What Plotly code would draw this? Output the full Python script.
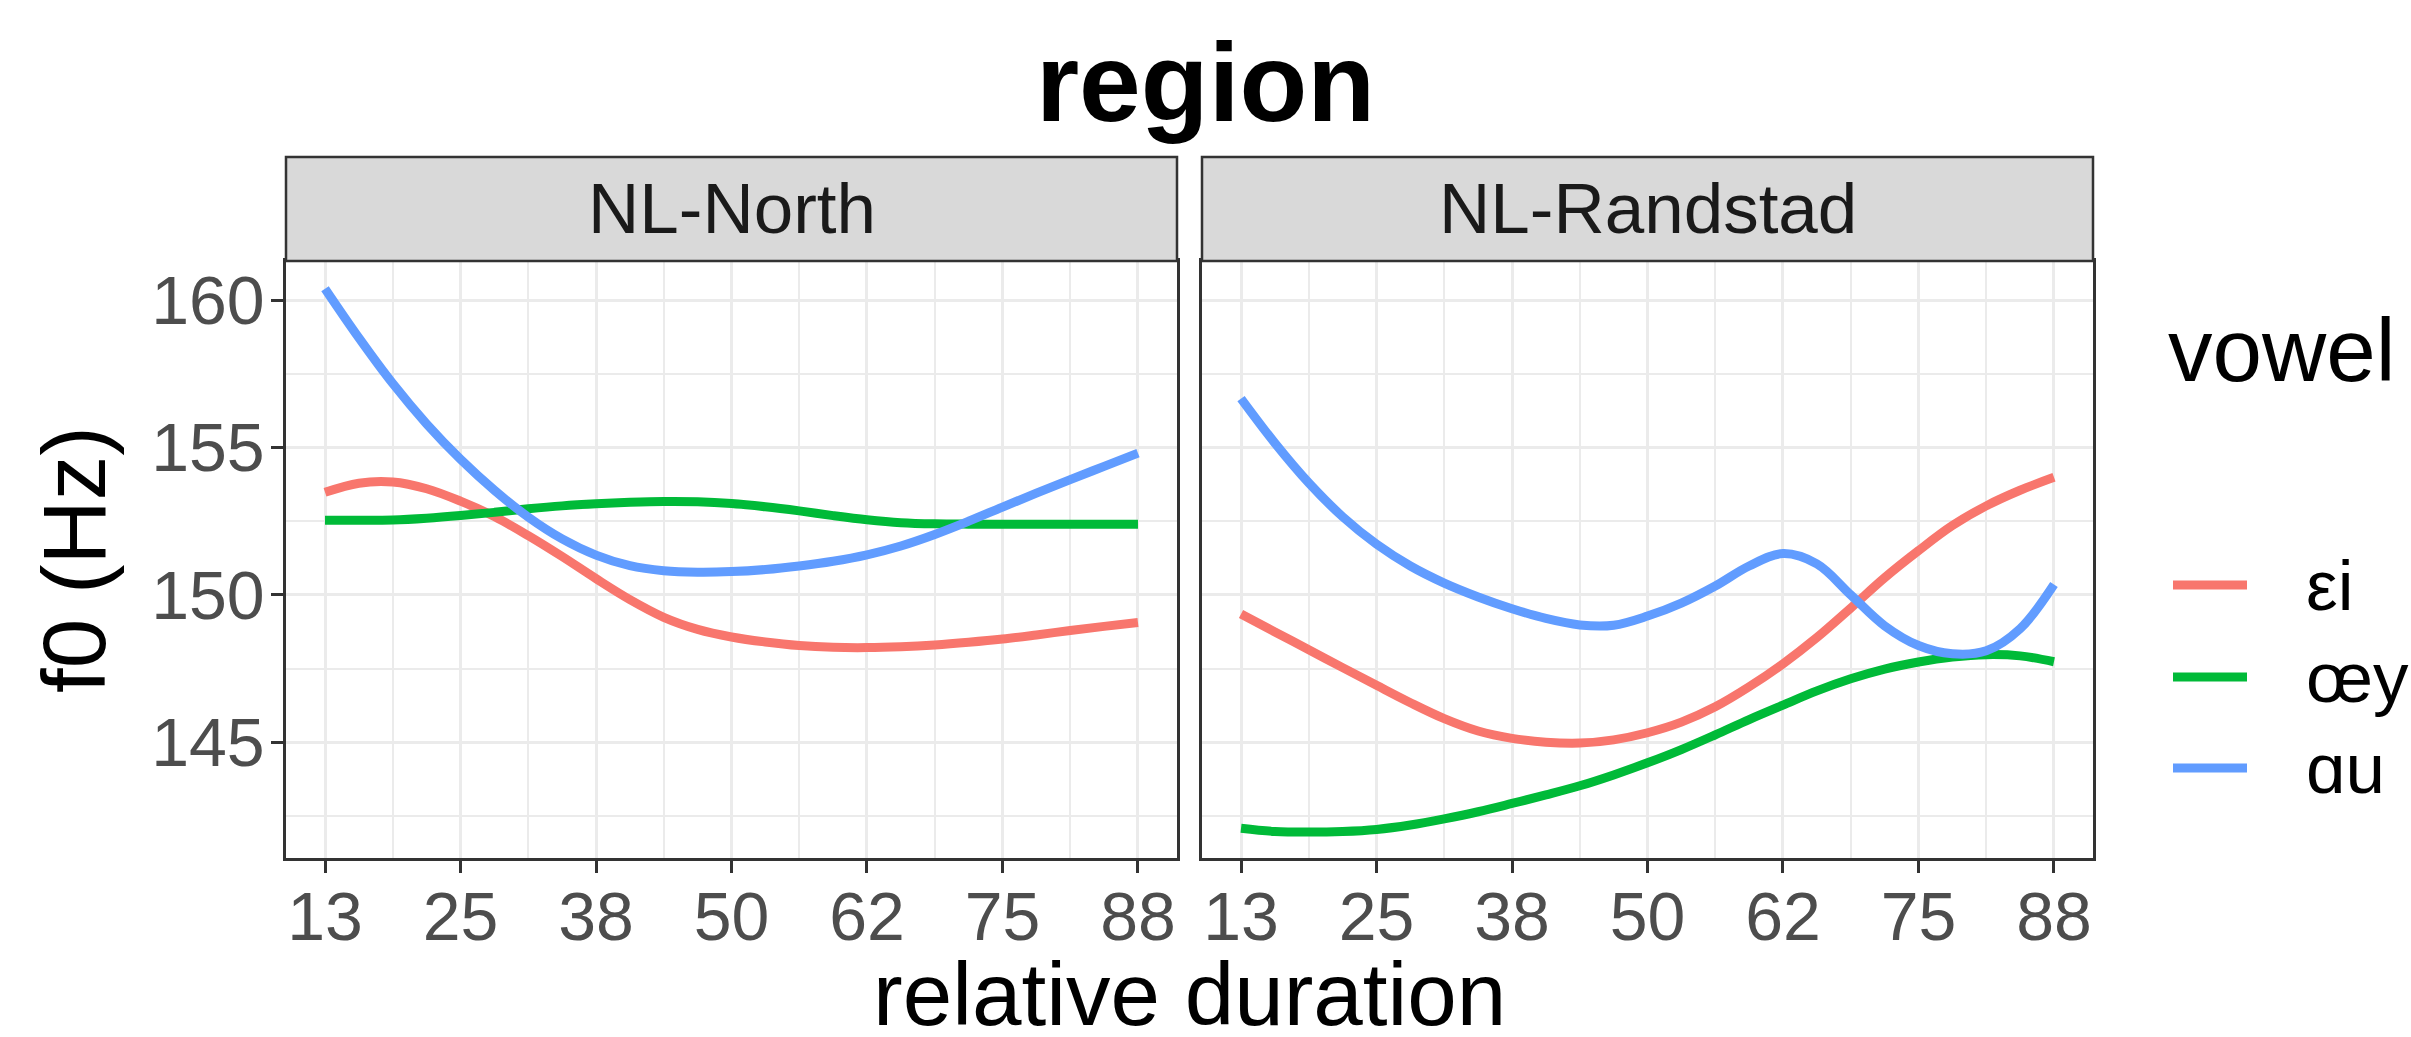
import plotly.graph_objects as go

# ---------------- data ----------------
x_vals = [12.5, 15.625, 18.75, 21.875, 25.0, 28.125, 31.25, 34.375, 37.5, 40.625, 43.75, 46.875,
          50.0, 53.125, 56.25, 59.375, 62.5, 65.625, 68.75, 71.875, 75.0, 78.125, 81.25, 84.375, 87.5]

vowels = ["εi", "œy", "ɑu"]
regions = ["NL-North", "NL-Randstad"]

north_ei = [153.48, 153.79, 153.83, 153.6, 153.18, 152.66, 152.01, 151.3, 150.55, 149.84, 149.24, 148.83,
            148.57, 148.4, 148.28, 148.22, 148.21, 148.24, 148.3, 148.39, 148.5, 148.64, 148.79, 148.93, 149.06]
north_oey = [152.53, 152.53, 152.54, 152.6, 152.69, 152.8, 152.92, 153.02, 153.09, 153.14, 153.17, 153.16,
             153.1, 152.99, 152.85, 152.69, 152.55, 152.45, 152.41, 152.4, 152.4, 152.4, 152.4, 152.4, 152.4]
north_au = [160.39, 158.72, 157.17, 155.8, 154.6, 153.55, 152.64, 151.9, 151.35, 150.99, 150.82, 150.77,
            150.79, 150.86, 150.98, 151.14, 151.36, 151.66, 152.05, 152.5, 152.98, 153.45, 153.91, 154.36, 154.81]

rand_ei = [149.35, 148.74, 148.14, 147.53, 146.93, 146.34, 145.8, 145.38, 145.13, 145.0, 144.97, 145.08,
           145.32, 145.68, 146.2, 146.88, 147.66, 148.55, 149.55, 150.58, 151.5, 152.35, 153.02, 153.55, 153.99]
rand_oey = [142.08, 141.97, 141.95, 141.97, 142.04, 142.19, 142.4, 142.64, 142.92, 143.21, 143.52, 143.89,
            144.3, 144.75, 145.25, 145.77, 146.26, 146.74, 147.15, 147.48, 147.72, 147.89, 147.97, 147.93, 147.73]
rand_au = [156.66, 155.15, 153.8, 152.65, 151.72, 150.98, 150.4, 149.93, 149.53, 149.2, 148.98, 148.97,
           149.28, 149.72, 150.3, 150.98, 151.4, 151.05, 150.0, 148.95, 148.28, 148.0, 148.1, 148.85, 150.35]

x_tickvals = [12.5, 25, 37.5, 50, 62.5, 75, 87.5]
x_ticktext = ["13", "25", "38", "50", "62", "75", "88"]
x_minor = [18.75, 31.25, 43.75, 56.25, 68.75, 81.25]
y_tickvals = [145, 150, 155, 160]
y_minor = [142.5, 147.5, 152.5, 157.5]

colors = ["#F8766D", "#00BA38", "#619CFF"]

# ---------------- figure ----------------
W, H = 2411, 1037
ML, MR, MT, MB = 286, 318, 261, 179
PW = W - ML - MR
PH = H - MT - MB


def px_x(p):
    return (p - ML) / PW


def px_y(p):
    return (H - MB - p) / PH


FONT = "Liberation Sans, Arial, Helvetica, sans-serif"
TICK = 68
SMALL = 71
MID = 89
BIG = 111

fig = go.Figure()

series = {
    "NL-North": [north_ei, north_oey, north_au],
    "NL-Randstad": [rand_ei, rand_oey, rand_au],
}

for pi, reg in enumerate(regions):
    xa = "x" if pi == 0 else "x2"
    ya = "y" if pi == 0 else "y2"
    for vi, v in enumerate(vowels):
        fig.add_trace(go.Scatter(
            x=x_vals, y=series[reg][vi], mode="lines", name=v,
            line=dict(color=colors[vi], width=9, shape="spline", smoothing=1.0),
            xaxis=xa, yaxis=ya, showlegend=False, legendgroup=v,
        ))

gap = 25 / PW
d1 = [0, 0.5 - gap / 2]
d2 = [0.5 + gap / 2, 1]

xcommon = dict(
    range=[8.9, 91.1], tickmode="array", tickvals=x_tickvals, ticktext=x_ticktext,
    ticks="outside", ticklen=12, tickwidth=2.5, tickcolor="#333333",
    tickfont=dict(family=FONT, size=TICK, color="#4D4D4D"), ticklabelstandoff=-14,
    showgrid=True, gridcolor="#EBEBEB", gridwidth=3.2,
    minor=dict(tickmode="array", tickvals=x_minor, showgrid=True, gridcolor="#EBEBEB", gridwidth=1.6, ticks=""),
    showline=True, mirror=True, linecolor="#333333", linewidth=2.5,
    zeroline=False, fixedrange=True,
)
ycommon = dict(
    range=[141.07, 161.33], tickmode="array", tickvals=y_tickvals,
    ticklen=12, tickwidth=2.5, tickcolor="#333333",
    tickfont=dict(family=FONT, size=TICK, color="#4D4D4D"), ticklabelstandoff=-7,
    showgrid=True, gridcolor="#EBEBEB", gridwidth=3.2,
    minor=dict(tickmode="array", tickvals=y_minor, showgrid=True, gridcolor="#EBEBEB", gridwidth=1.6, ticks=""),
    showline=True, mirror=True, linecolor="#333333", linewidth=2.5,
    zeroline=False, fixedrange=True,
)

fig.update_layout(
    width=W, height=H,
    margin=dict(l=ML, r=MR, t=MT, b=MB, pad=0),
    paper_bgcolor="white", plot_bgcolor="white",
    showlegend=False,
    xaxis=dict(domain=d1, anchor="y", **xcommon),
    xaxis2=dict(domain=d2, anchor="y2", **xcommon),
    yaxis=dict(domain=[0, 1], anchor="x", ticks="outside", **ycommon),
    yaxis2=dict(domain=[0, 1], anchor="x2", matches="y", showticklabels=False, ticks="", **ycommon),
    title=dict(text="<b>region</b>", x=0.5, xref="container", xanchor="center",
               y=1 - 82 / H, yref="container", yanchor="middle",
               font=dict(family=FONT, size=BIG, color="black")),
)

strip_h = 104 / PH
shapes = []
annotations = []
for pi, reg in enumerate(regions):
    xr = "x domain" if pi == 0 else "x2 domain"
    yr = "y domain" if pi == 0 else "y2 domain"
    shapes.append(dict(type="rect", xref=xr, yref=yr, x0=0, x1=1, y0=1, y1=1 + strip_h,
                       fillcolor="#D9D9D9", line=dict(color="#333333", width=2.5), layer="above"))
    annotations.append(dict(text=reg, xref=xr, yref=yr, x=0.5, y=1 + strip_h / 2,
                            xanchor="center", yanchor="middle", showarrow=False,
                            font=dict(family=FONT, size=SMALL, color="#1A1A1A")))

# axis titles
annotations.append(dict(text="relative duration", xref="paper", yref="paper",
                        x=px_x(1189), y=px_y(994), xanchor="center", yanchor="middle",
                        showarrow=False, font=dict(family=FONT, size=MID, color="black")))
annotations.append(dict(text="f0 (Hz)", xref="paper", yref="paper",
                        x=px_x(74), y=px_y(560), xanchor="center", yanchor="middle",
                        textangle=-90, showarrow=False, font=dict(family=FONT, size=MID, color="black")))

# legend (drawn manually, ggplot style)
annotations.append(dict(text="vowel", xref="paper", yref="paper",
                        x=px_x(2166), y=px_y(350), xanchor="left", yanchor="middle",
                        showarrow=False, font=dict(family=FONT, size=MID, color="black")))
legend_rows = [585, 677, 768]
for vi, v in enumerate(vowels):
    yy = px_y(legend_rows[vi])
    shapes.append(dict(type="line", xref="paper", yref="paper",
                       x0=px_x(2173), x1=px_x(2247), y0=yy, y1=yy,
                       line=dict(color=colors[vi], width=9)))
    annotations.append(dict(text=v, xref="paper", yref="paper",
                            x=px_x(2304), y=yy, xanchor="left", yanchor="middle",
                            showarrow=False, font=dict(family=FONT, size=SMALL, color="black")))

fig.update_layout(shapes=shapes, annotations=annotations)

fig.write_html("out.html", config={"displayModeBar": False},
               post_script="document.body.style.margin='0';document.body.style.overflow='hidden';")
